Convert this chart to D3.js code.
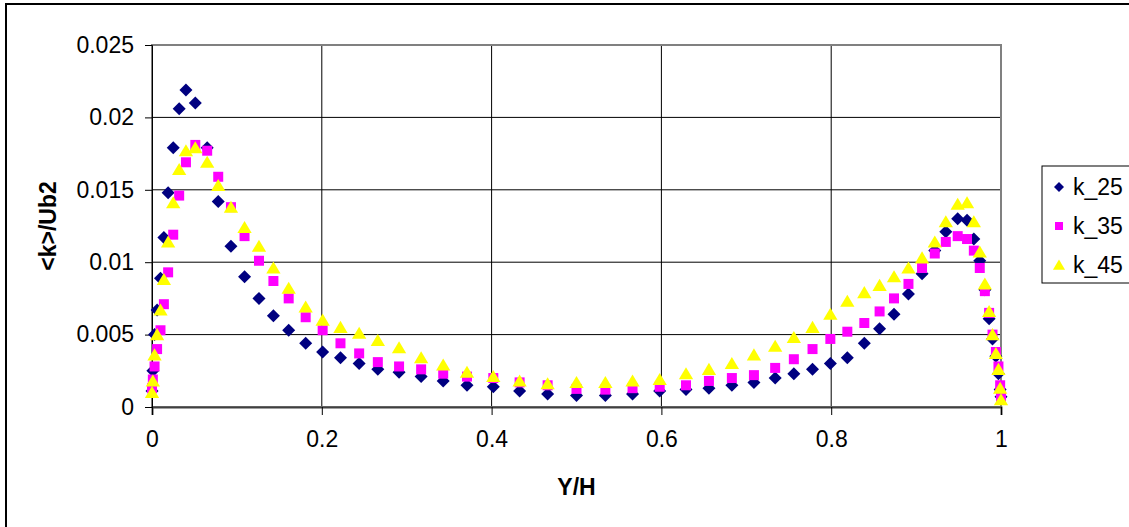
<!DOCTYPE html>
<html>
<head>
<meta charset="utf-8">
<script src="https://cdn.jsdelivr.net/npm/d3@7"></script>
<style>
  html, body { margin: 0; padding: 0; background: #fff; }
  svg { display: block; font-family: Arial, "Liberation Sans", sans-serif; }
  .tick text { font-size: 23px; fill: #000; }
</style>
</head>
<body>
<div id="chart-area"></div>
<script>
// wall-normal positions Y/H (same grid for every run)
var yh = [0, 0.001, 0.003, 0.006, 0.010, 0.014, 0.019, 0.025, 0.032, 0.040,
          0.051, 0.065, 0.078, 0.093, 0.109, 0.126, 0.143, 0.161, 0.181, 0.201,
          0.222, 0.244, 0.266, 0.291, 0.317, 0.343, 0.371, 0.402, 0.433, 0.466,
          0.5, 0.534, 0.566, 0.598, 0.629, 0.656, 0.683, 0.709, 0.734, 0.756,
          0.778, 0.799, 0.819, 0.839, 0.857, 0.874, 0.891, 0.907, 0.922, 0.935,
          0.949, 0.960, 0.968, 0.975, 0.981, 0.986, 0.990, 0.994, 0.997, 0.999, 1.0];

var k25 = [0.0011, 0.0025, 0.0050, 0.0067, 0.0089, 0.0117, 0.0148, 0.0179, 0.0206, 0.0219,
           0.0210, 0.0179, 0.0142, 0.0111, 0.0090, 0.0075, 0.0063, 0.0053, 0.0044, 0.0038,
           0.0034, 0.0030, 0.0026, 0.0024, 0.0021, 0.0018, 0.0015, 0.0014, 0.0011, 0.0009,
           0.0008, 0.0008, 0.0009, 0.0011, 0.0012, 0.0013, 0.0015, 0.0017, 0.0020, 0.0023,
           0.0026, 0.0030, 0.0034, 0.0044, 0.0054, 0.0064, 0.0078, 0.0092, 0.0108, 0.0121,
           0.0130, 0.0129, 0.0116, 0.0101, 0.0081, 0.0061, 0.0047, 0.0035, 0.0023, 0.0012, 0.0007];

var k35 = [0.0013, 0.0019, 0.0028, 0.0040, 0.0053, 0.0071, 0.0093, 0.0119, 0.0146, 0.0169,
           0.0181, 0.0177, 0.0159, 0.0138, 0.0118, 0.0101, 0.0087, 0.0075, 0.0062, 0.0053,
           0.0044, 0.0037, 0.0031, 0.0028, 0.0026, 0.0023, 0.0021, 0.0020, 0.0017, 0.0015,
           0.00125, 0.0012, 0.0013, 0.0014, 0.0015, 0.0018, 0.0020, 0.0022, 0.0027, 0.0033,
           0.0040, 0.0047, 0.0052, 0.0058, 0.0066, 0.0075, 0.0085, 0.0096, 0.0106, 0.0114,
           0.0118, 0.0116, 0.0108, 0.0096, 0.0080, 0.0065, 0.0050, 0.0038, 0.0028, 0.0015, 0.0007];

var k45 = [0.0010, 0.0018, 0.0036, 0.0050, 0.0067, 0.0088, 0.0114, 0.0141, 0.0164, 0.0177,
           0.0179, 0.0169, 0.0153, 0.0138, 0.0124, 0.0111, 0.0096, 0.0082, 0.0069, 0.0060,
           0.0055, 0.0051, 0.0046, 0.0041, 0.0034, 0.0029, 0.0024, 0.0021, 0.0018, 0.0016,
           0.0017, 0.0017, 0.0018, 0.0019, 0.0023, 0.0026, 0.0030, 0.0036, 0.0042, 0.0048,
           0.0055, 0.0064, 0.0073, 0.0079, 0.0084, 0.0090, 0.0096, 0.0103, 0.0114, 0.0128,
           0.0140, 0.0141, 0.0128, 0.0107, 0.0085, 0.0066, 0.0050, 0.0037, 0.0026, 0.0013, 0.0005];

var seriesNames = ["k_25", "k_35", "k_45"];
var xTicks = [0, 0.2, 0.4, 0.6, 0.8, 1];
var xTickLabels = ["0", "0.2", "0.4", "0.6", "0.8", "1"];
var yTicks = [0, 0.005, 0.01, 0.015, 0.02, 0.025];
var yTickLabels = ["0", "0.005", "0.01", "0.015", "0.02", "0.025"];

var W = 1129, H = 527;
var margin = { top: 45, right: 128, bottom: 120, left: 152 },
    width = W - margin.left - margin.right,
    height = H - margin.top - margin.bottom;

// marker shapes, centred on 0,0
function diamond(r) { return "M0," + (-r) + "L" + r + ",0L0," + r + "L" + (-r) + ",0Z"; }
function square(r) { return "M" + (-r) + "," + (-r) + "h" + (2 * r) + "v" + (2 * r) + "h" + (-2 * r) + "Z"; }
function triangle(r) { return "M0," + (-r) + "L" + (r * 1.1) + "," + (r * 0.85) + "L" + (-r * 1.1) + "," + (r * 0.85) + "Z"; }

var series = [
    { name: seriesNames[0], values: k25, color: "#000080", shape: diamond, size: 6.5, legendSize: 5 },
    { name: seriesNames[1], values: k35, color: "#FF00FF", shape: square, size: 5, legendSize: 4 },
    { name: seriesNames[2], values: k45, color: "#FFFF00", shape: triangle, size: 6.5, legendSize: 5.5 }
];

var root = d3.select("#chart-area")
    .append("svg")
    .attr("width", W)
    .attr("height", H);

// outer chart border
root.append("rect")
    .attr("x", 6).attr("y", 4)
    .attr("width", W + 20).attr("height", H + 20)
    .attr("fill", "none")
    .attr("stroke", "#000")
    .attr("stroke-width", 2);

var svg = root.append("g")
    .attr("transform", "translate(" + margin.left + "," + margin.top + ")");

var xScale = d3.scaleLinear().domain([0, 1]).range([0, width]);
var yScale = d3.scaleLinear().domain([0, 0.025]).range([height, 0]);

// gridlines
svg.append("g")
    .selectAll("line.hgrid")
    .data(yTicks)
    .enter().append("line")
    .attr("x1", 0).attr("x2", width)
    .attr("y1", function(d) { return yScale(d); })
    .attr("y2", function(d) { return yScale(d); })
    .attr("stroke", "#000")
    .attr("stroke-width", 1);

svg.append("g")
    .selectAll("line.vgrid")
    .data(xTicks)
    .enter().append("line")
    .attr("x1", function(d) { return xScale(d); })
    .attr("x2", function(d) { return xScale(d); })
    .attr("y1", 0).attr("y2", height)
    .attr("stroke", "#000")
    .attr("stroke-width", 1);

// plot area border
svg.append("rect")
    .attr("width", width).attr("height", height)
    .attr("fill", "none")
    .attr("stroke", "#808080")
    .attr("stroke-width", 2);

var xAxis = d3.axisBottom(xScale)
    .tickValues(xTicks)
    .tickSize(8)
    .tickPadding(16)
    .tickFormat(function(d, i) { return xTickLabels[i]; });

var yAxis = d3.axisLeft(yScale)
    .tickValues(yTicks)
    .tickSize(7)
    .tickPadding(11)
    .tickFormat(function(d, i) { return yTickLabels[i]; });

svg.append("g")
    .attr("transform", "translate(0," + height + ")")
    .call(xAxis)
    .call(function(g) { g.select(".domain").attr("stroke", "#404040").attr("stroke-width", 2); });

svg.append("g")
    .call(yAxis)
    .call(function(g) { g.select(".domain").attr("stroke", "#000"); });

svg.selectAll(".tick text").style("font-family", "Arial, 'Liberation Sans', sans-serif");

// axis titles
svg.append("text")
    .attr("x", width / 2)
    .attr("y", height + 88)
    .attr("text-anchor", "middle")
    .style("font-size", "23px")
    .style("font-weight", "bold")
    .text("Y/H");

svg.append("text")
    .attr("transform", "rotate(-90)")
    .attr("x", -height / 2)
    .attr("y", -96)
    .attr("text-anchor", "middle")
    .style("font-size", "23px")
    .style("font-weight", "bold")
    .text("<k>/Ub2");

// markers
series.forEach(function(s) {
    svg.append("g")
        .selectAll("path")
        .data(s.values)
        .enter().append("path")
        .attr("transform", function(d, i) { return "translate(" + xScale(yh[i]) + "," + yScale(d) + ")"; })
        .attr("d", s.shape(s.size))
        .attr("fill", s.color);
});

// legend
var legend = root.append("g").attr("transform", "translate(1042,166)");
legend.append("rect")
    .attr("width", 120).attr("height", 117)
    .attr("fill", "#fff")
    .attr("stroke", "#000")
    .attr("stroke-width", 1);

series.forEach(function(s, i) {
    var row = legend.append("g").attr("transform", "translate(0," + (21 + i * 39) + ")");
    row.append("path")
        .attr("transform", "translate(17,0)")
        .attr("d", s.shape(s.legendSize))
        .attr("fill", s.color);
    row.append("text")
        .attr("x", 31)
        .attr("y", 8)
        .style("font-size", "23px")
        .text(s.name);
});
</script>
</body>
</html>
